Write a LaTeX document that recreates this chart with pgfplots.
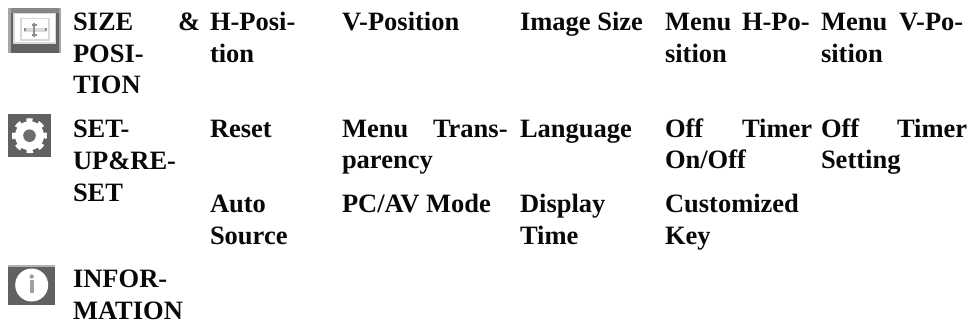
\documentclass[border=0pt]{standalone}
\usepackage{fontspec}
\setmainfont{Liberation Serif}
\usepackage{pgfplots}
\pgfplotsset{compat=1.18}
\definecolor{ink}{gray}{0.03}
\definecolor{icon}{gray}{0.38}
\newcommand{\w}[3]{\node[anchor=base west,inner sep=0pt,outer sep=0pt,text=ink,font=\fontsize{26.5bp}{31bp}\selectfont\bfseries] at (axis cs:#1,#2) {#3};}
\begin{document}
\begin{tikzpicture}
\begin{axis}[
  width=969bp,height=325bp,scale only axis,
  xmin=0,xmax=969,ymin=0,ymax=325,y dir=reverse,
  hide axis,clip=false]
\path (axis cs:0,0) rectangle (axis cs:969,325);
% icon 1: size & position
\fill[icon] (axis cs:8,8) rectangle (axis cs:61,53);
\fill[gray!95] (axis cs:8,8) rectangle (axis cs:61,13);
\fill[gray!70] (axis cs:8,8) rectangle (axis cs:11,53);
\fill[gray!70] (axis cs:58.5,8) rectangle (axis cs:61,53);
\fill[gray!30] (axis cs:13,13) rectangle (axis cs:56,44);
\fill[white] (axis cs:14.5,14.5) rectangle (axis cs:54.5,42.5);
\draw[gray!30,line width=1.6bp] (axis cs:21,18.5) rectangle (axis cs:49,40);
\fill[gray!30] (axis cs:24,28) rectangle (axis cs:46,32);
\fill[gray!110!black] (axis cs:33.2,23) rectangle (axis cs:35.3,37);
\fill[gray!110!black] (axis cs:31.5,24) rectangle (axis cs:37,26);
\fill[gray!110!black] (axis cs:31.5,34) rectangle (axis cs:37,36);
\fill[gray!110!black] (axis cs:24,28.5) rectangle (axis cs:26,31.5);
\fill[gray!110!black] (axis cs:44.5,28.5) rectangle (axis cs:46.5,31.5);
% icon 2: set up & reset
\fill[icon] (axis cs:8,114) rectangle (axis cs:51,157);
\fill[white] (axis cs:29.5,135.7) circle[radius=14.5bp];
\draw[white,line width=5bp,dash pattern=on 5.9bp off 5.9bp,dash phase=3bp] (axis cs:29.5,135.7) circle[radius=15bp];
\fill[gray!85!black] (axis cs:29.5,135.7) circle[radius=6.3bp];
% icon 3: information
\fill[icon] (axis cs:8,265) rectangle (axis cs:55,305);
\fill[gray!60] (axis cs:8,265) rectangle (axis cs:55,267);
\fill[white] (axis cs:31.7,285) circle[radius=16.5bp];
\fill[gray!75] (axis cs:31.7,276.5) circle[radius=2.2bp];
\fill[gray!75] (axis cs:29.7,280) rectangle (axis cs:33.7,293);
% first block
\w{73}{30.5}{SIZE}
\w{178}{30.5}{\&}
\w{73}{62}{POSI-}
\w{73}{93.5}{TION}
\w{210}{30.5}{H-Posi-}
\w{210}{62}{tion}
\w{342}{30.5}{V-Position}
\w{520}{30.5}{Image Size}
\w{665}{30.5}{Menu}
\w{742}{30.5}{H-Po-}
\w{665}{62}{sition}
\w{821}{30.5}{Menu}
\w{899}{30.5}{V-Po-}
\w{821}{62}{sition}
% second block
\w{73}{137}{SET-}
\w{73}{169}{UP\&RE-}
\w{73}{201}{SET}
\w{210}{137}{Reset}
\w{342}{137}{Menu}
\w{433}{137}{Trans-}
\w{342}{168.5}{parency}
\w{520}{137}{Language}
\w{665}{137}{Off}
\w{742}{137}{Timer}
\w{665}{168.5}{On/Off}
\w{821}{137}{Off}
\w{897}{137}{Timer}
\w{821}{168.5}{Setting}
% third row
\w{210}{212}{Auto}
\w{210}{244}{Source}
\w{342}{212}{PC/AV Mode}
\w{520}{212}{Display}
\w{520}{244}{Time}
\w{665}{212}{Customized}
\w{665}{244}{Key}
% information
\w{73}{287}{INFOR-}
\w{73}{319}{MATION}
\end{axis}
\end{tikzpicture}
\end{document}
